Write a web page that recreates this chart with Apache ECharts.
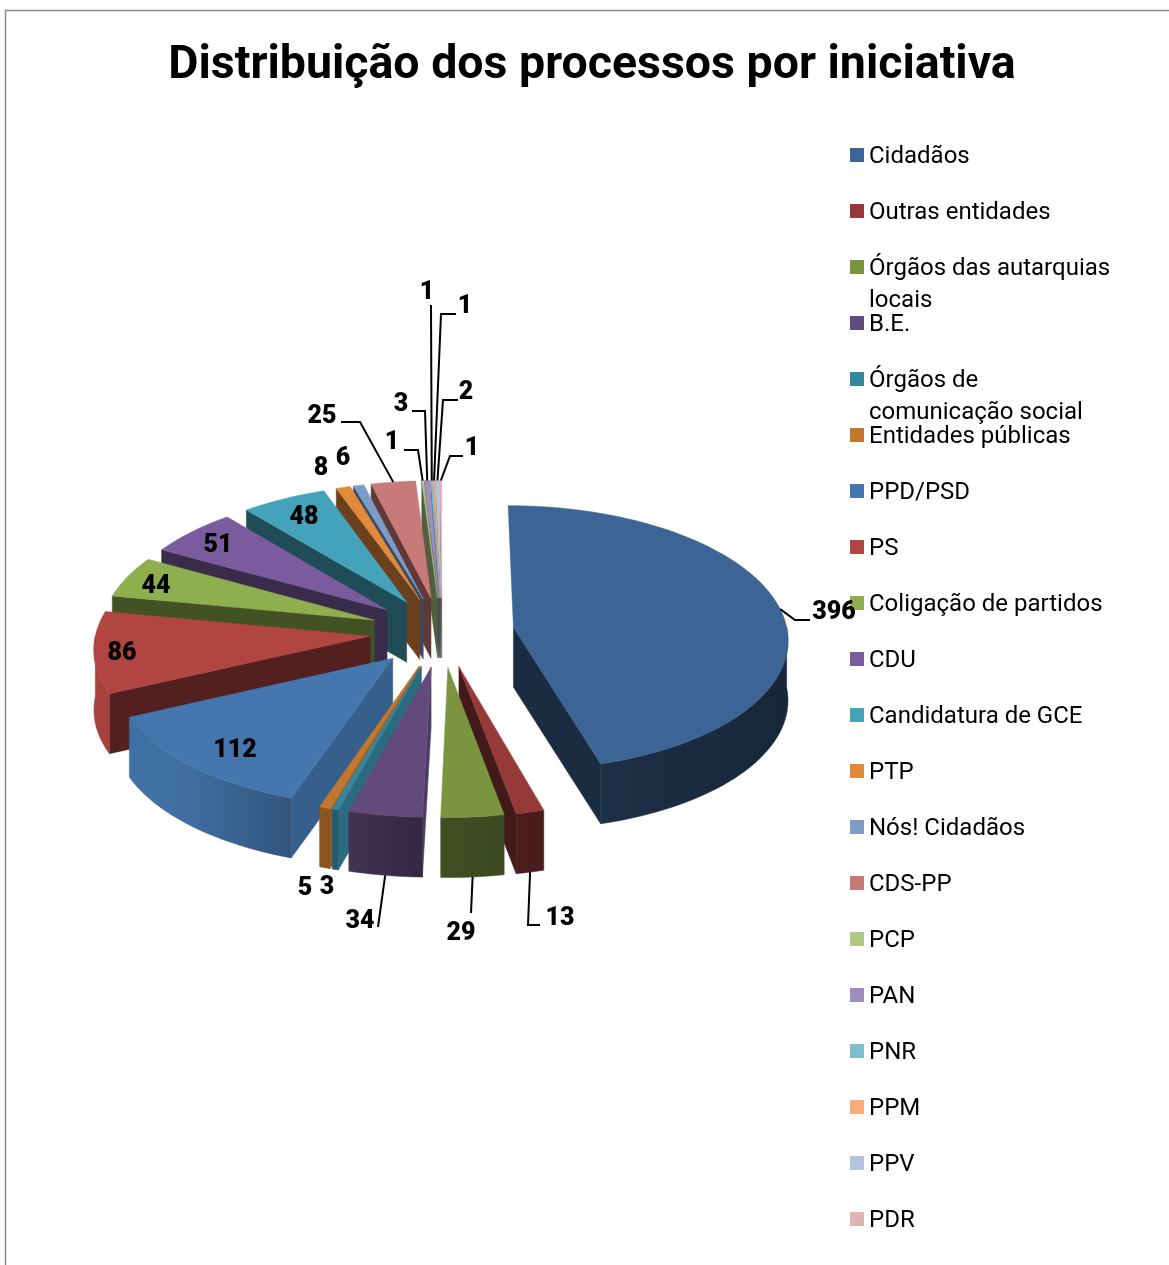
<!DOCTYPE html>
<html>
<head>
<meta charset="utf-8">
<title>Distribuição dos processos por iniciativa</title>
<script src="https://cdn.jsdelivr.net/npm/echarts@6/dist/echarts.min.js"></script>
<style>
  html, body { margin: 0; padding: 0; background: #fff; }
  #chart { width: 1169px; height: 1265px; }
</style>
</head>
<body>
<div id="chart"></div>
<script>
const titleText = 'Distribuição dos processos por iniciativa';
const categories = ['Cidadãos', 'Outras entidades', 'Órgãos das autarquias locais', 'B.E.',
    'Órgãos de comunicação social', 'Entidades públicas', 'PPD/PSD', 'PS', 'Coligação de partidos',
    'CDU', 'Candidatura de GCE', 'PTP', 'Nós! Cidadãos', 'CDS-PP', 'PCP', 'PAN', 'PNR', 'PPM', 'PPV', 'PDR'];
const values = [396, 13, 29, 34, 3, 5, 112, 86, 44, 51, 48, 8, 6, 25, 1, 3, 1, 1, 2, 1];
const colors = ['#3c6494', '#953a38', '#7a9440', '#624a7c', '#35869f', '#c2772f', '#4577ae', '#b04542',
    '#8fae4f', '#7a5b9d', '#44a2bb', '#e28a3c', '#7b9bc9', '#c87a78', '#afc886', '#a08cbd',
    '#7fbccf', '#fbac78', '#b5c3df', '#e0b4b3'];

// legend names that wrap on a second line
const wrapped = { 'Órgãos das autarquias locais': ['Órgãos das autarquias', 'locais'],
    'Órgãos de comunicação social': ['Órgãos de', 'comunicação social'] };

// where the value labels sit, and the leader line bends on the way to the slice
const labelAt = [[834, 613], [560, 919], [461, 934], [360, 922], [327, 888], [305, 889], [235, 751], [122, 654],
    [156, 587], [218, 546], [304, 518], [321, 469], [343, 459], [322, 417], [392, 443], [401, 405],
    [427, 293], [465, 307], [466, 393], [472, 449]];
const leaders = [[[810, 620], [795, 620]], [[540, 925], [528, 925]], [[471, 913]], [[378, 927]], null, null, null, null,
    null, null, null, null, null, [[341, 422], [360, 422]], [[404, 450], [418, 450]], [[412, 411], [425, 411]],
    [[431, 305]], [[456, 314], [441, 314]], [[458, 400], [443, 400]], [[463, 456], [450, 456]]];

const cx = 442, cy = 632, rx = 274, ry = 132, depth = 60, explode = 0.264, persp = 0.08;
const fontName = 'Roboto';

const total = values.reduce((a, b) => a + b, 0);
const starts = [];
values.reduce((acc, v, i) => { starts[i] = acc / total * 360; return acc + v; }, 0);
const ends = values.map((v, i) => starts[i] + v / total * 360);
const mids = values.map((v, i) => (starts[i] + ends[i]) / 2);
const rad = d => d * Math.PI / 180;

/* project a point of slice i: angle in degrees clockwise from the top, r radius, h drop */
function project(i, deg, r, h) {
    const X = explode * Math.sin(rad(mids[i])) + r * Math.sin(rad(deg));
    const Y = -(explode * Math.cos(rad(mids[i])) + r * Math.cos(rad(deg)));
    const s = 1 / (1 - persp * Y);
    return [cx + rx * X * s, cy + ry * Y * s + h];
}

function shade(hex, f) {
    const n = parseInt(hex.slice(1), 16);
    const c = [n >> 16, (n >> 8) & 255, n & 255].map(v => Math.round(Math.min(255, v * f)));
    return `rgb(${c[0]},${c[1]},${c[2]})`;
}

function wallFactor(deg) {
    const nx = Math.sin(rad(deg));
    return nx > 0 ? 0.52 - 0.14 * nx : 0.52 + 0.42 * Math.min(1, -nx / 0.7);
}

function arc(i, from, to, h) {
    const n = Math.max(1, Math.ceil(Math.abs(to - from) / 2));
    const pts = [];
    for (let k = 0; k <= n; k++) pts.push(project(i, from + (to - from) * k / n, 1, h));
    return pts;
}

/* 生成一个切片: cut walls, outer wall, top face */
function renderSlice(i, color) {
    const a0 = starts[i], a1 = ends[i];
    const children = [];
    const poly = (points, fill) => children.push({
        type: 'polygon', shape: { points }, style: { fill, stroke: fill, lineWidth: 0.5 }
    });
    if (Math.sin(rad(a1)) > 0) {
        poly([project(i, a1, 0, 0), project(i, a1, 1, 0), project(i, a1, 1, depth), project(i, a1, 0, depth)], shade(color, 0.44));
    }
    if (Math.sin(rad(a0)) < 0) {
        poly([project(i, a0, 0, 0), project(i, a0, 1, 0), project(i, a0, 1, depth), project(i, a0, 0, depth)], shade(color, a0 < 215 ? 0.8 : 0.47));
    }
    const w0 = Math.max(a0, 90), w1 = Math.min(a1, 270);
    if (w1 > w0) {
        const top = arc(i, w0, w1, 0), bottom = arc(i, w1, w0, depth);
        const xs = top.map(p => p[0]);
        const xMin = Math.min(...xs), xMax = Math.max(...xs);
        const stops = [];
        const m = 6;
        for (let k = 0; k <= m; k++) {
            const deg = w1 + (w0 - w1) * k / m;
            const x = project(i, deg, 1, 0)[0];
            stops.push({ offset: (x - xMin) / (xMax - xMin || 1), color: shade(color, wallFactor(deg)) });
        }
        stops.sort((a, b) => a.offset - b.offset);
        poly(top.concat(bottom), new echarts.graphic.LinearGradient(0, 0, 1, 0, stops));
    }
    poly([project(i, a0, 0, 0)].concat(arc(i, a0, a1, 0)), color);
    return { type: 'group', children };
}

/* value labels and their leader lines */
function renderLabel(params, api) {
    const i = params.dataIndex;
    const children = [];
    if (leaders[i]) {
        const front = Math.cos(rad(mids[i])) < -0.5;
        const points = leaders[i].concat([project(i, mids[i], 1, front ? depth : 0)]);
        children.push({ type: 'polyline', shape: { points }, style: { fill: 'none', stroke: '#000', lineWidth: 2 } });
    }
    children.push({
        type: 'text',
        style: {
            x: labelAt[i][0], y: labelAt[i][1], text: String(api.value(0)), align: 'center', verticalAlign: 'middle',
            font: `900 25px ${fontName}`, fill: '#000'
        }
    });
    return { type: 'group', children };
}

// back slices are painted first, front slices over them
const order = values.map((v, i) => i).sort((a, b) => Math.cos(rad(mids[b])) - Math.cos(rad(mids[a])));

const sliceSeries = categories.map((name, i) => ({
    type: 'custom',
    name,
    coordinateSystem: 'none',
    z: 2 + order.indexOf(i),
    itemStyle: { color: colors[i] },
    silent: true,
    renderItem: () => renderSlice(i, colors[i]),
    data: [[values[i]]]
}));

const secondLines = [['Órgãos das autarquias locais', 303], ['Órgãos de comunicação social', 415]];

const myEchart = echarts.init(document.getElementById('chart'), null, { renderer: 'canvas' });
myEchart.setOption({
    animation: false,
    backgroundColor: '#fff',
    title: {
        text: titleText,
        left: 587,
        top: 38,
        textAlign: 'center',
        textStyle: { fontFamily: fontName, fontWeight: 'bold', fontSize: 46.5, color: '#000' }
    },
    legend: {
        data: categories,
        orient: 'vertical',
        left: 850,
        top: 143,
        padding: 0,
        itemWidth: 14,
        itemHeight: 18,
        itemGap: 28,
        // square sits 2px above the text middle, the empty subpath keeps the box 18 high
        icon: 'path://M0 0H14V14H0ZM0 18L0 18Z',
        selectedMode: false,
        formatter: name => wrapped[name] ? wrapped[name][0] : name,
        textStyle: { fontFamily: fontName, fontSize: 24, lineHeight: 28, color: '#000' }
    },
    graphic: [
        { type: 'polyline', silent: true, shape: { points: [[5.5, 1265], [5.5, 10.5], [1169, 10.5]] },
          style: { fill: 'none', stroke: '#8c8c8c', lineWidth: 1.5 } }
    ].concat(secondLines.map(([name, y]) => ({
        type: 'text', left: 869, top: y - 14,
        style: { text: wrapped[name][1], font: `24px ${fontName}`, fill: '#000' }
    }))),
    series: sliceSeries.concat([{
        type: 'custom',
        name: 'labels',
        coordinateSystem: 'none',
        z: 40,
        silent: true,
        renderItem: renderLabel,
        data: values.map(v => [v])
    }])
});
console.log(`<图表生成成功>: ${titleText}`);
</script>
</body>
</html>
